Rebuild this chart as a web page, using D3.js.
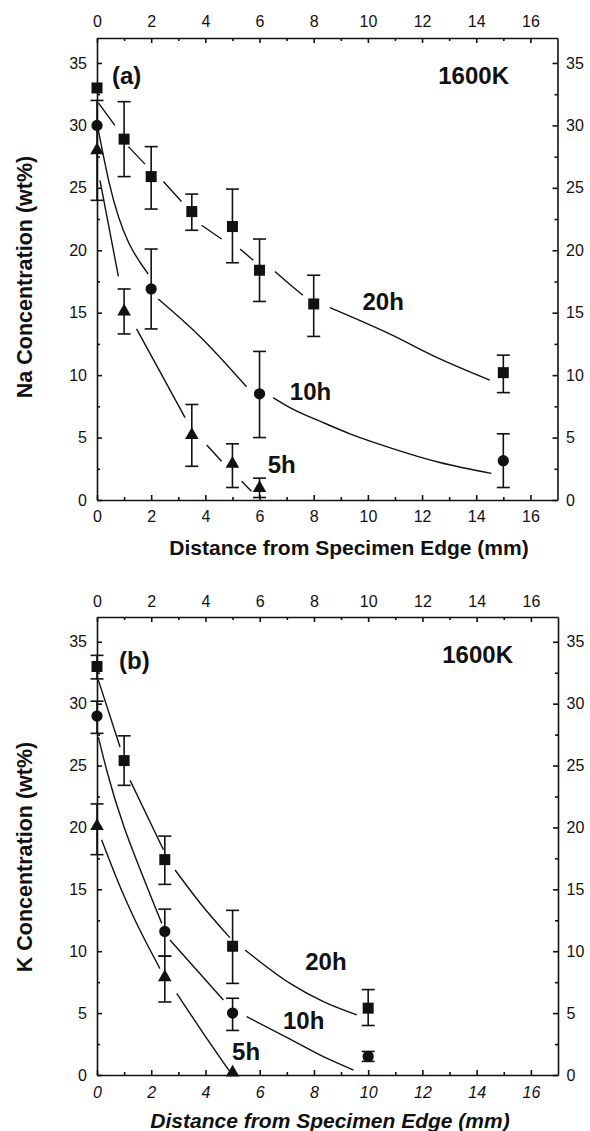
<!DOCTYPE html>
<html>
<head>
<meta charset="utf-8">
<script src="https://cdn.jsdelivr.net/npm/d3@7"></script>
<style>
  body { margin: 0; background: #fff; }
  text { font-family: "Liberation Sans", Arial, Helvetica, sans-serif; fill: #111; }
</style>
</head>
<body>
<svg id="chart" width="590" height="1131"></svg>
<script>
// ---- data (distance in mm, concentration in wt%) ----
const xTicks = [0, 2, 4, 6, 8, 10, 12, 14, 16];
const yTicks = [0, 5, 10, 15, 20, 25, 30, 35];

// (a) Na, 1600K
const naDist20 = [0, 1, 2, 3.5, 5, 6, 8, 15];
const na20     = [33, 28.9, 25.9, 23.1, 21.9, 18.4, 15.7, 10.2];
const na20Lo   = [null, 25.9, 23.3, 21.6, 19.0, 15.9, 13.1, 8.6];
const na20Hi   = [null, 31.9, 28.3, 24.5, 24.9, 20.9, 18.0, 11.6];

const naDist10 = [0, 2, 6, 15];
const na10     = [30, 16.9, 8.5, 3.15];
const na10Lo   = [null, 13.7, 5.0, 1.0];
const na10Hi   = [null, 20.1, 11.9, 5.3];

const naDist5  = [0, 1, 3.5, 5, 6];
const na5      = [28, 15.1, 5.2, 2.9, 0.95];
const na5Lo    = [24, 13.3, 2.7, 1.0, 0.2];
const na5Hi    = [32, 16.9, 7.65, 4.5, 1.75];

// fitted curves, read as points; null = gap in the drawn line
const naFit20 = [[0.05,31.8],[0.66,30.0], null, [1.16,28.3],[1.77,26.9], null,
                 [2.45,25.5],[3.12,23.9], null, [3.86,22.0],[4.6,20.9], null,
                 [5.28,20.1],[5.77,19.2], null, [6.57,18.3],[7.1,17.3],[7.6,16.4], null,
                 [8.6,15.4],[10.8,13.3],[12.66,11.3],[14.5,9.6]];
const naFit10 = [[0.05,29.6],[0.45,25.4],[1.89,18.1], null,
                 [2.26,16.1],[3.8,13.1],[5.52,9.07], null,
                 [6.5,8.2],[7.12,7.4],[8.35,6.2],[9.34,5.3],[10.8,4.2],[12.66,3.0],[14.56,2.13]];
const naFit5  = [[0.11,25.6],[0.79,17.9], null,
                 [1.46,13.7],[2.32,10.3],[3.25,6.6], null,
                 [4.05,4.4],[4.6,3.1], null, [5.34,1.5],[5.7,0.7]];

// (b) K, 1600K
const kDist20 = [0, 1, 2.5, 5, 10];
const k20     = [33, 25.4, 17.4, 10.4, 5.4];
const k20Lo   = [32, 23.4, 15.4, 7.4, 4.0];
const k20Hi   = [33.9, 27.4, 19.3, 13.3, 6.9];

const kDist10 = [0, 2.5, 5, 10];
const k10     = [29, 11.6, 5.0, 1.5];
const k10Lo   = [27.6, 9.6, 3.6, 1.1];
const k10Hi   = [30.2, 13.4, 6.2, 1.9];

const kDist5  = [0, 2.5, 5];
const k5      = [20.1, 7.9, 0.2];
const k5Lo    = [17.8, 5.9, null];
const k5Hi    = [21.9, 9.6, null];

const kFit20 = [[0.05,31.9],[0.85,26.5], null, [1.22,23.8],[2.45,18.2], null,
                [2.88,16.56],[3.8,13.9],[4.9,11.1], null,
                [5.46,10.1],[7.12,7.4],[8.35,5.92],[9.58,4.85]];
const kFit10 = [[0.05,27.3],[0.36,24.6],[1.9,14.9],[2.39,12.25], null,
                [2.69,10.9],[4.66,6.06], null,
                [5.52,4.71],[7.12,2.9],[8.35,1.48],[9.46,0.4]];
const kFit5  = [[0.17,19.0],[0.91,14.9],[1.34,12.8],[2.32,8.6], null,
                [2.94,6.6],[3.92,3.37],[4.9,0.27]];

function pts(xs, ys, lo, hi) {
  return xs.map((x, i) => ({x: x, y: ys[i], lo: lo[i], hi: hi[i]}));
}

const svg = d3.select("#chart");

const panels = [
  {
    top: 38, bottom: 500, left: 97, right: 557.5,
    topPad: 11, bottomPad: 11, italicBottom: false,
    yTitle: "Na Concentration (wt%)", yTitleY: 277,
    xTitleX: 349, xTitleY: 555,
    tag: "(a)", tagX: 112, tagY: 84, tempX: 509, tempY: 84,
    series: [
      {name: "20h", shape: d3.symbolSquare, data: pts(naDist20, na20, na20Lo, na20Hi), fit: naFit20, lx: 9.8, ly: 15.2},
      {name: "10h", shape: d3.symbolCircle, data: pts(naDist10, na10, na10Lo, na10Hi), fit: naFit10, lx: 7.12, ly: 8.0},
      {name: "5h",  shape: d3.symbolTriangle, data: pts(naDist5, na5, na5Lo, na5Hi), fit: naFit5, lx: 6.3, ly: 2.2}
    ]
  },
  {
    top: 617, bottom: 1075, left: 97, right: 558,
    topPad: 10, bottomPad: 11.3, italicBottom: true,
    yTitle: "K Concentration (wt%)", yTitleY: 857,
    xTitleX: 330, xTitleY: 1128,
    tag: "(b)", tagX: 119, tagY: 669, tempX: 513, tempY: 663,
    series: [
      {name: "20h", shape: d3.symbolSquare, data: pts(kDist20, k20, k20Lo, k20Hi), fit: kFit20, lx: 7.68, ly: 8.5},
      {name: "10h", shape: d3.symbolCircle, data: pts(kDist10, k10, k10Lo, k10Hi), fit: kFit10, lx: 6.86, ly: 3.7},
      {name: "5h",  shape: d3.symbolTriangle, data: pts(kDist5, k5, k5Lo, k5Hi), fit: kFit5, lx: 4.98, ly: 1.2}
    ]
  }
];

const symSize = new Map([[d3.symbolSquare, 121], [d3.symbolCircle, 100], [d3.symbolTriangle, 80]]);

panels.forEach(p => {
  const x = d3.scaleLinear().domain([0, 17]).range([p.left, p.right]);
  const y = d3.scaleLinear().domain([0, 37]).range([p.bottom, p.top]);
  const g = svg.append("g");

  const minorX = d3.range(1, 17, 2);
  const minorY = d3.range(2.5, 37, 5);

  // minor ticks first (no labels), then labelled axes on top
  function addAxis(axisFn, scale, tr, major, minor, pad, italic) {
    g.append("g").attr("transform", tr)
      .call(axisFn(scale).tickValues(minor).tickFormat("").tickSizeInner(-3).tickSizeOuter(0))
      .call(a => a.select(".domain").remove());
    const ax = g.append("g").attr("transform", tr)
      .call(axisFn(scale).tickValues(major).tickSizeInner(-5).tickSizeOuter(0).tickPadding(pad));
    ax.selectAll("text").style("font-size", "16px").style("fill", "#111")
      .style("font-style", italic ? "italic" : "normal");
    return ax;
  }
  addAxis(d3.axisTop, x, `translate(0,${p.top})`, xTicks, minorX, p.topPad, false);
  addAxis(d3.axisBottom, x, `translate(0,${p.bottom})`, xTicks, minorX, p.bottomPad, p.italicBottom);
  addAxis(d3.axisLeft, y, `translate(${p.left},0)`, yTicks, minorY, 10, false);
  addAxis(d3.axisRight, y, `translate(${p.right},0)`, yTicks, minorY, 8.5, false);
  g.selectAll(".domain, .tick line").attr("stroke", "#111").attr("stroke-width", 1.6);

  // fitted curves
  const line = d3.line().defined(d => d !== null)
    .x(d => x(d[0])).y(d => y(d[1])).curve(d3.curveMonotoneX);
  p.series.forEach(s => {
    g.append("path").attr("d", line(s.fit))
      .attr("fill", "none").attr("stroke", "#111").attr("stroke-width", 1.4);
  });

  // error bars and markers
  p.series.forEach(s => {
    const eb = s.data.filter(d => d.lo !== null && d.hi !== null);
    const bars = g.append("g").attr("stroke", "#111").attr("stroke-width", 1.6);
    bars.selectAll("line.v").data(eb).join("line").attr("class", "v")
      .attr("x1", d => x(d.x)).attr("x2", d => x(d.x))
      .attr("y1", d => y(d.lo)).attr("y2", d => y(d.hi));
    bars.selectAll("line.lo").data(eb).join("line").attr("class", "lo")
      .attr("x1", d => x(d.x) - 6.5).attr("x2", d => x(d.x) + 6.5)
      .attr("y1", d => y(d.lo)).attr("y2", d => y(d.lo));
    bars.selectAll("line.hi").data(eb).join("line").attr("class", "hi")
      .attr("x1", d => x(d.x) - 6.5).attr("x2", d => x(d.x) + 6.5)
      .attr("y1", d => y(d.hi)).attr("y2", d => y(d.hi));

    g.selectAll(null).data(s.data).join("path")
      .attr("d", d3.symbol().type(s.shape).size(symSize.get(s.shape)))
      .attr("transform", d => `translate(${x(d.x)},${y(d.y)})`)
      .attr("fill", "#111");

    g.append("text").attr("x", x(s.lx)).attr("y", y(s.ly))
      .style("font-size", "24px").style("font-weight", "bold").text(s.name);
  });

  // panel tag and temperature
  g.append("text").attr("x", p.tagX).attr("y", p.tagY)
    .style("font-size", "24px").style("font-weight", "bold").text(p.tag);
  g.append("text").attr("x", p.tempX).attr("y", p.tempY).attr("text-anchor", "end")
    .style("font-size", "24px").style("font-weight", "bold").text("1600K");

  // axis titles
  g.append("text").attr("x", p.xTitleX).attr("y", p.xTitleY).attr("text-anchor", "middle")
    .style("font-size", "21px").style("font-weight", "bold")
    .style("font-style", p.italicBottom ? "italic" : "normal")
    .text("Distance from Specimen Edge (mm)");
  g.append("text").attr("transform", `translate(32,${p.yTitleY}) rotate(-90)`)
    .attr("text-anchor", "middle")
    .style("font-size", "21.5px").style("font-weight", "bold")
    .text(p.yTitle);
});
</script>
</body>
</html>
